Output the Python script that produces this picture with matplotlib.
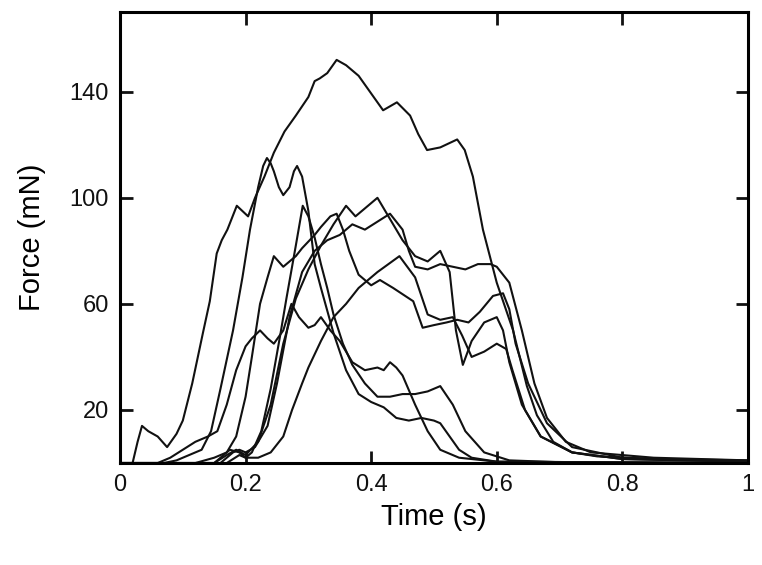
import matplotlib
matplotlib.use("Agg")
import matplotlib.pyplot as plt
from matplotlib.ticker import FuncFormatter

plt.rcParams['font.family'] = ['Liberation Sans', 'DejaVu Sans']

# ---------- traces (t en s, force en mN) ----------
a_t = [0.0, 0.02, 0.028, 0.035, 0.045, 0.06, 0.075, 0.09, 0.1, 0.115, 0.132, 0.143, 0.154, 0.162,
       0.171, 0.186, 0.195, 0.204, 0.215, 0.23, 0.245, 0.262, 0.28, 0.3, 0.31, 0.318, 0.33, 0.345,
       0.36, 0.38, 0.398, 0.419, 0.441, 0.462, 0.475, 0.489, 0.51, 0.537, 0.549, 0.562, 0.578, 0.6,
       0.626, 0.648, 0.664, 0.69, 0.72, 0.76, 0.85, 1.0]
a_f = [0, 0, 8, 14, 12, 10, 6, 11, 16, 30, 49, 61, 79, 84,
       88, 97, 95, 93, 100, 108, 117, 125, 131, 138, 144, 145, 147, 152,
       150, 146, 140, 133, 136, 131, 124, 118, 119, 122, 118, 108, 88, 68,
       50, 29, 18, 8, 4, 2.5, 1.5, 1]

c_t = [0.0, 0.07, 0.09, 0.11, 0.13, 0.145, 0.16, 0.18, 0.195, 0.207, 0.22, 0.228, 0.234, 0.24,
       0.245, 0.253, 0.26, 0.27, 0.277, 0.282, 0.29, 0.3, 0.31, 0.32, 0.34, 0.36, 0.38, 0.4, 0.42,
       0.44, 0.46, 0.48, 0.5, 0.51, 0.525, 0.54, 0.56, 0.6, 1.0]
c_f = [0, 0, 1, 3, 5, 12, 28, 50, 70, 88, 104, 112, 115, 113,
       110, 104, 101, 104, 110, 112, 108, 95, 75, 66, 49, 35, 26, 23, 21,
       17, 16, 17, 16, 15, 10, 5, 2, 0.5, 0]

e_t = [0.0, 0.06, 0.08, 0.1, 0.12, 0.14, 0.155, 0.17, 0.185, 0.2, 0.21, 0.223, 0.235, 0.245, 0.26,
       0.273, 0.285, 0.3, 0.31, 0.32, 0.335, 0.35, 0.37, 0.39, 0.41, 0.42, 0.43, 0.44, 0.45, 0.47,
       0.49, 0.51, 0.54, 0.6, 1.0]
e_f = [0, 0, 2, 5, 8, 10, 12, 22, 35, 44, 47, 50, 47, 45, 50,
       60, 55, 51, 52, 55, 50, 46, 38, 35, 36, 35, 38, 36, 33, 22,
       12, 5, 2, 0.5, 0]

g_t = [0.0, 0.15, 0.175, 0.19, 0.2, 0.21, 0.225, 0.24, 0.255, 0.265, 0.28, 0.291, 0.3, 0.31, 0.32,
       0.33, 0.34, 0.355, 0.37, 0.39, 0.41, 0.43, 0.45, 0.47, 0.49, 0.51, 0.53, 0.55, 0.58, 0.62,
       0.7, 1.0]
g_f = [0, 0, 5, 4, 2, 4, 12, 28, 48, 62, 82, 97, 93, 85, 75,
       66, 56, 45, 37, 30, 25, 25, 26, 26, 27, 29, 22, 12, 4, 1, 0.3, 0]

h_t = [0.0, 0.12, 0.15, 0.17, 0.185, 0.2, 0.21, 0.223, 0.235, 0.245, 0.26, 0.28, 0.29, 0.31, 0.32,
       0.335, 0.345, 0.355, 0.365, 0.38, 0.4, 0.414, 0.435, 0.467, 0.482, 0.5, 0.52, 0.537, 0.555,
       0.573, 0.594, 0.61, 0.62, 0.63, 0.65, 0.68, 0.72, 0.8, 1.0]
h_f = [0, 0, 2, 4, 10, 25, 40, 60, 70, 78, 74, 78, 81, 86, 89,
       93, 94, 88, 80, 71, 67, 69, 66, 61, 51, 52, 53, 54, 53,
       57, 63, 64, 58, 45, 30, 15, 6, 2, 0.5]

m1_t = [0.0, 0.15, 0.17, 0.185, 0.2, 0.22, 0.24, 0.26, 0.28, 0.3, 0.32, 0.34, 0.36, 0.375, 0.39,
        0.41, 0.43, 0.45, 0.47, 0.49, 0.51, 0.525, 0.535, 0.546, 0.56, 0.58, 0.6, 0.61, 0.62, 0.64,
        0.67, 0.72, 0.8, 1.0]
m1_f = [0, 0, 3, 5, 3, 8, 22, 45, 62, 73, 82, 90, 97, 93, 96,
        100, 92, 84, 78, 76, 80, 72, 50, 37, 46, 53, 55, 50, 38, 22,
        10, 4, 1.5, 0.5]

m2_t = [0.0, 0.16, 0.18, 0.19, 0.2, 0.215, 0.235, 0.25, 0.27, 0.29, 0.31, 0.33, 0.35, 0.37, 0.39,
        0.41, 0.43, 0.45, 0.46, 0.47, 0.49, 0.51, 0.53, 0.55, 0.57, 0.59, 0.6, 0.62, 0.64, 0.66,
        0.68, 0.71, 0.75, 0.85, 1.0]
m2_f = [0, 0, 4, 5, 4, 6, 14, 30, 55, 72, 80, 84, 86, 90, 88,
        91, 94, 88, 80, 74, 73, 75, 74, 73, 75, 75, 74, 68, 50, 30,
        17, 8, 4, 2, 1]

m4_t = [0.0, 0.17, 0.19, 0.2, 0.22, 0.24, 0.26, 0.274, 0.29, 0.3, 0.32, 0.34, 0.36, 0.38, 0.41,
        0.445, 0.47, 0.49, 0.51, 0.53, 0.545, 0.56, 0.58, 0.6, 0.615, 0.625, 0.645, 0.67, 0.72,
        0.8, 1.0]
m4_f = [0, 0, 3, 2, 2, 4, 10, 20, 30, 36, 46, 55, 60, 66, 72,
        78, 70, 56, 54, 55, 48, 40, 42, 45, 43, 35, 20, 10, 4,
        1.5, 0.5]

traces = [(a_t, a_f), (c_t, c_f), (e_t, e_f), (g_t, g_f),
          (h_t, h_f), (m1_t, m1_f), (m2_t, m2_f), (m4_t, m4_f)]

x_ticks = [0, 0.2, 0.4, 0.6, 0.8, 1.0]
y_ticks = [20, 60, 100, 140]

# ---------- figure ----------
fig = plt.figure(figsize=(7.62, 5.65), dpi=100)
ax = fig.add_axes([0.1575, 0.1805, 0.824, 0.798])
for t, f in traces:
    ax.plot(t, f, color="#111111", lw=1.5, solid_joinstyle="round")

ax.set_xlim(0, 1)
ax.set_ylim(0, 170)
ax.set_xticks(x_ticks)
ax.set_yticks(y_ticks)
ax.xaxis.set_major_formatter(FuncFormatter(lambda v, p: f"{v:g}"))
ax.tick_params(direction="in", length=9, width=2, top=True, right=True,
               labelsize=17, pad=8, colors="#111111")
for s in ax.spines.values():
    s.set_linewidth(2.2)
ax.set_xlabel("Time (s)", fontsize=21, labelpad=5)
ax.set_ylabel("Force (mN)", fontsize=21, labelpad=17)

fig.savefig("out.png", dpi=100)
